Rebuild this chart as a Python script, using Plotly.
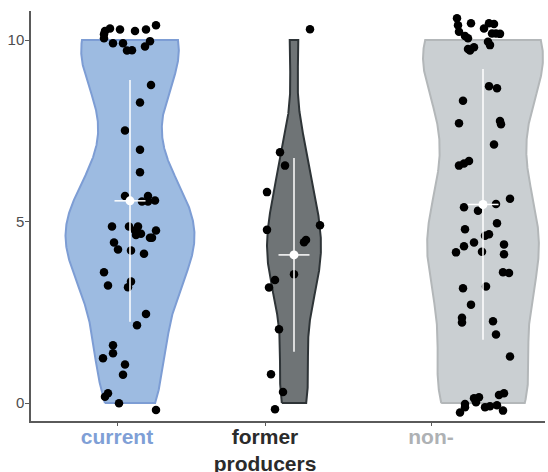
import numpy as np
import plotly.graph_objects as go

# Ratings per producer group (jittered display values) and horizontal jitter
current_y = [10.25, 10.32, 10.16, 10.05, 10.29, 10.25, 10.29, 10.41, 9.91, 9.91,
             9.71, 9.72, 9.82, 9.97, 8.76, 8.28, 7.51, 6.98, 6.36, 5.70,
             5.70, 5.55, 5.55, 5.58, 4.86, 4.86, 4.86, 4.75, 4.63, 4.66,
             4.75, 4.55, 4.55, 4.42, 4.23, 4.20, 4.11, 3.60, 3.24, 3.35,
             3.19, 2.45, 2.14, 1.59, 1.37, 1.23, 1.06, 0.78, 0.27, 0.17,
             -0.01, -0.19]
current_dx = [-0.25, -0.20, -0.26, -0.26, -0.10, 0.05, 0.16, 0.26, -0.17, -0.07,
              -0.03, 0.02, 0.15, 0.20, 0.21, 0.10, -0.05, 0.10, 0.10, -0.05,
              0.18, 0.12, 0.18, 0.25, -0.18, -0.01, 0.08, 0.05, 0.06, 0.11,
              0.26, 0.20, 0.22, -0.16, -0.12, 0.01, 0.14, -0.26, -0.22, 0.01,
              -0.02, 0.16, 0.07, -0.17, -0.17, -0.27, -0.05, -0.07, -0.22, -0.25,
              -0.11, 0.26]

former_y = [10.30, 6.91, 6.54, 5.81, 4.77, 4.90, 4.43, 4.49, 3.55, 3.39,
            3.18, 2.03, 0.79, 0.30, -0.17]
former_dx = [0.16, -0.14, -0.09, -0.27, -0.27, 0.26, 0.10, 0.12, 0.00, -0.19,
             -0.25, -0.15, -0.23, -0.11, -0.19]

non_y = [10.60, 10.41, 10.46, 10.23, 10.11, 10.05, 10.32, 10.46, 10.44, 10.18,
         10.18, 10.17, 9.95, 9.86, 9.75, 9.80, 9.71, 8.73, 8.67, 8.33,
         7.71, 7.77, 7.68, 7.12, 6.54, 6.60, 6.67, 5.63, 5.39, 5.48,
         5.30, 4.95, 4.79, 4.61, 4.65, 4.42, 4.32, 4.15, 4.17, 4.37,
         4.10, 3.60, 3.58, 3.16, 3.21, 2.71, 2.35, 2.22, 2.25, 1.89,
         1.28, 0.13, 0.16, 0.02, -0.03, -0.12, -0.26, -0.12, -0.09, -0.06,
         -0.21, 0.22, 0.27]
non_dx = [-0.26, -0.25, -0.12, -0.24, -0.18, -0.15, 0.01, 0.06, 0.11, 0.09,
          0.13, 0.17, 0.05, 0.07, -0.15, -0.09, -0.13, 0.06, 0.14, -0.20,
          -0.24, 0.17, 0.18, 0.11, -0.24, -0.19, -0.14, 0.27, -0.19, 0.13,
          -0.05, 0.14, -0.18, 0.02, 0.06, -0.09, -0.19, -0.27, -0.01, 0.21,
          0.21, 0.20, 0.26, -0.20, 0.03, -0.12, -0.21, -0.21, 0.10, 0.13,
          0.27, -0.09, -0.04, -0.07, -0.18, -0.18, -0.23, 0.02, 0.07, 0.14,
          0.20, 0.16, 0.21]

# Group summaries: mean and standard deviation
means = [5.57, 4.08, 5.47]
sds = [3.33, 2.67, 3.73]

tick_labels = ["current", "former<br>producers", "non-"]

# Styling
centres = [0.99, 2.63, 4.52]
label_pos = [0.86, 2.34, 4.00]
half_widths = [0.645, 0.27, 0.60]
fills = ["#9dbbe1", "#6f7476", "#cacfd2"]
edges = ["#7d9dd4", "#2e3437", "#b3b7b9"]
label_colors = ["#7f9fd6", "#2b2b2b", "#aeb1b4"]

groups = [(current_y, current_dx), (former_y, former_dx), (non_y, non_dx)]


def nrd0(v):
    sd = v.std(ddof=1)
    q75, q25 = np.percentile(v, [75, 25])
    lo = min(sd, (q75 - q25) / 1.34)
    if lo <= 0:
        lo = sd
    return 0.9 * lo * len(v) ** -0.2


def violin_outline(vals, centre, half_width, n=512):
    """Gaussian KDE over the data range, mirrored into a closed outline."""
    bw = nrd0(vals)
    grid = np.linspace(vals.min(), vals.max(), n)
    dens = np.exp(-0.5 * ((grid[:, None] - vals[None, :]) / bw) ** 2).sum(axis=1)
    half = dens / dens.max() * half_width
    xs = np.concatenate([centre - half, (centre + half)[::-1], [centre - half[0]]])
    ys = np.concatenate([grid, grid[::-1], [grid[0]]])
    return xs, ys


fig = go.Figure()

for (ys, dxs), c, hw, fc, ec in zip(groups, centres, half_widths, fills, edges):
    vals = np.clip(np.array(ys, dtype=float), 0, 10)  # ratings live on a 0-10 scale
    vx, vy = violin_outline(vals, c, hw)
    fig.add_trace(go.Scatter(
        x=vx, y=vy, mode="lines", fill="toself", fillcolor=fc,
        line=dict(color=ec, width=2),
        hoverinfo="skip", showlegend=False,
    ))

for (ys, dxs), c in zip(groups, centres):
    fig.add_trace(go.Scatter(
        x=[c + d for d in dxs], y=ys, mode="markers",
        marker=dict(color="black", size=8.5),
        hoverinfo="skip", showlegend=False,
    ))

fig.add_trace(go.Scatter(
    x=centres, y=means, mode="markers",
    marker=dict(color="white", size=9),
    error_y=dict(type="data", array=sds, color="white", thickness=1.5, width=0),
    error_x=dict(type="constant", value=0.155, color="white", thickness=1.5, width=0),
    hoverinfo="skip", showlegend=False,
))

ticktext = [f'<span style="color:{col}"><b>{t}</b></span>'
            for t, col in zip(tick_labels, label_colors)]

fig.update_layout(
    width=548, height=472,
    margin=dict(l=31, r=3, t=11, b=51),
    plot_bgcolor="white", paper_bgcolor="white",
    font=dict(family="Liberation Sans, Arial, sans-serif"),
    xaxis=dict(
        range=[0, 5.14], showgrid=False, zeroline=False, automargin=False,
        showline=True, linecolor="#5a5a5a", linewidth=1.5,
        tickmode="array", tickvals=label_pos, ticktext=ticktext,
        ticks="outside", ticklen=3, tickcolor="#5a5a5a", tickwidth=1,
        ticklabelstandoff=-7,
        tickfont=dict(size=21, color="#2b2b2b"),
    ),
    yaxis=dict(
        range=[-0.496, 10.80], showgrid=False, zeroline=False, automargin=False,
        showline=True, linecolor="#5a5a5a", linewidth=1.5,
        tickmode="array", tickvals=[0, 5, 10], ticktext=["0", "5", "10"],
        ticks="outside", ticklen=4, tickcolor="#5a5a5a", tickwidth=1,
        ticklabelstandoff=-2,
        tickfont=dict(size=15, color="#4d4d4d"),
    ),
)

fig.write_html("out.html")
